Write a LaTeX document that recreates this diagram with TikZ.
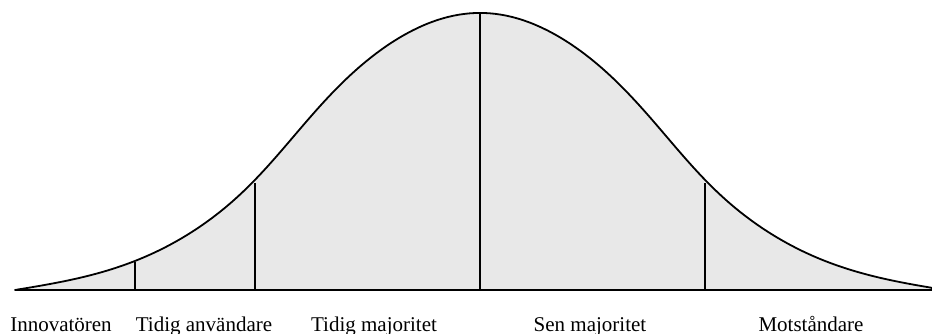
\documentclass[tikz,border=0pt]{standalone}
\usepackage{fontspec}
\setmainfont{Liberation Serif}
\begin{document}
\begin{tikzpicture}[x=1pt,y=-1pt,
  declare function={
    uu(\x)=abs(\x-480)/100;
    ss(\x)=1.63+0.24*exp(-1*(uu(\x)/1.85)^4);
    bell(\x)=290-277*(exp(-1*uu(\x)*uu(\x)/(2*ss(\x)*ss(\x)))-0.017*(uu(\x)/4.65)^8);
  },
  lbl/.style={anchor=base,inner sep=0pt,font=\fontsize{21}{25}\selectfont},
  curveline/.style={line width=1.8pt,line join=round},
  divider/.style={line width=1.8pt},
  area/.style={fill=gray!18}]
\useasboundingbox (0,0) rectangle (932,334);
% bell curve with area and baseline
\draw[curveline,area] plot[domain=15:932,samples=400] (\x,{bell(\x)})
  -- (932,290) -- (15,290) -- cycle;
% dividers
\coordinate (d1b) at (135,290); \coordinate (d1t) at (135,262);
\coordinate (d2b) at (255,290); \coordinate (d2t) at (255,183);
\coordinate (d3b) at (480,290); \coordinate (d3t) at (480,13);
\coordinate (d4b) at (705,290); \coordinate (d4t) at (705,183);
\draw[divider] (d1b) -- (d1t);
\draw[divider] (d2b) -- (d2t);
\draw[divider] (d3b) -- (d3t);
\draw[divider] (d4b) -- (d4t);
% labels
\node[lbl] (l1) at (61,331) {Innovatören};
\node[lbl] (l2) at (204,331) {Tidig användare};
\node[lbl] (l3) at (374,331) {Tidig majoritet};
\node[lbl] (l4) at (590,331) {Sen majoritet};
\node[lbl] (l5) at (811,331) {Motståndare};
\end{tikzpicture}
\end{document}
